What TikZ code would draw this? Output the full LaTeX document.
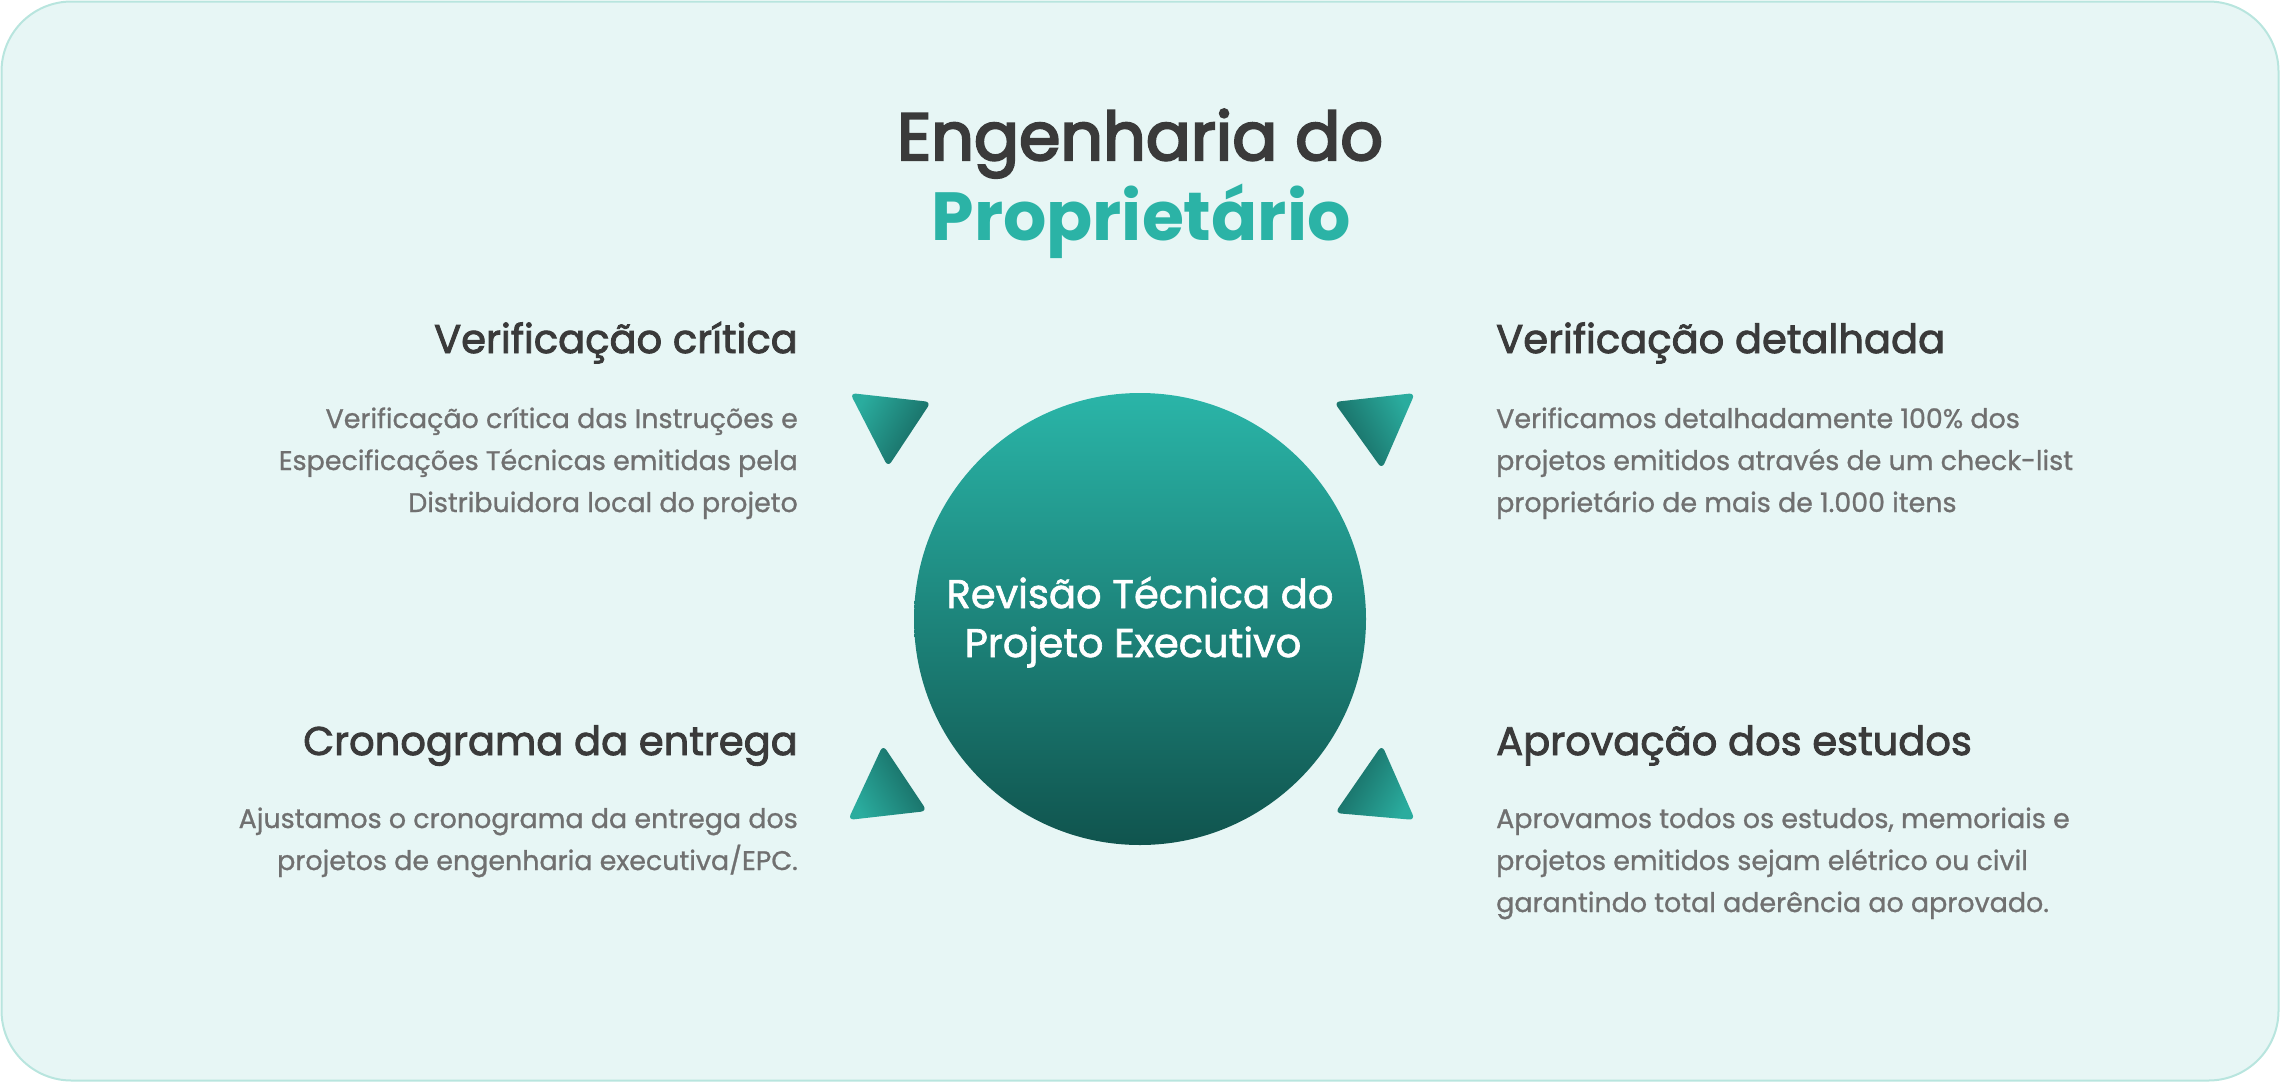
\documentclass[tikz,border=0pt]{standalone}
\usepackage{fontspec}
\setmainfont{Poppins}
\newfontfamily\titlefont{Poppins}[FakeBold=3.4]
\newfontfamily\headfont{Poppins}[FakeBold=2.2]
\newfontfamily\bodyfont{Poppins}[FakeBold=0.9]
\newfontfamily\hubfont{Poppins}[FakeBold=1.6]
\definecolor{bgc}{RGB}{231,246,245}
\definecolor{framec}{RGB}{184,229,222}
\definecolor{headc}{RGB}{58,58,58}
\definecolor{bodyc}{RGB}{112,112,112}
\definecolor{tealc}{RGB}{43,179,166}
\definecolor{circtop}{RGB}{42,181,168}
\definecolor{circbot}{RGB}{16,84,78}
\definecolor{trilight}{RGB}{42,172,158}
\definecolor{tridark}{RGB}{22,100,93}
\newlength\fitlen
\newcommand\fitsize[4]{%
  \settowidth\fitlen{#2\fontsize{100pt}{100pt}\selectfont #4}%
  \pgfmathsetmacro#1{#3/\fitlen*100}}
\AtBeginDocument{%
\fitsize\tsza{\titlefont}{486}{Engenharia do}%
\fitsize\tszb{\rmfamily\bfseries}{419}{Proprietário}%
\fitsize\hsz{\headfont}{449}{Verificação detalhada}%
\fitsize\bsz{\bodyfont}{519}{Especificações Técnicas emitidas pela}%
\fitsize\csz{\hubfont}{387}{Revisão Técnica do}%
}
\tikzset{
  headtxt/.style={text=headc, inner sep=0pt, font=\headfont\fontsize{\hsz pt}{\hsz pt}\selectfont},
  bodytxt/.style={text=bodyc, inner sep=0pt, font=\bodyfont\fontsize{\bsz pt}{\bsz pt}\selectfont},
  hubtxt/.style={text=white, inner sep=0pt, font=\hubfont\fontsize{\csz pt}{\csz pt}\selectfont},
  tri/.style={rounded corners=6pt},
}
\begin{document}
\begin{tikzpicture}[x=1pt,y=-1pt]
\useasboundingbox (0,0) rectangle (2280,1082);
% frame
\draw[fill=bgc, draw=framec, line width=2pt, rounded corners=70pt] (1.5,1.5) rectangle (2278.5,1080.5);
% title
\node[text=headc, inner sep=0pt, anchor=base, font=\titlefont\fontsize{\tsza pt}{\tsza pt}\selectfont] (title1) at (1140,160) {Engenharia do};
\node[text=tealc, inner sep=0pt, anchor=base, font=\bfseries\fontsize{\tszb pt}{\tszb pt}\selectfont] (title2) at (1141,240) {Proprietário};
% hub
\node[circle, minimum size=452pt, inner sep=0pt, top color=circtop, bottom color=circbot] (hub) at (1140,619) {};
\node[hubtxt, anchor=base] (hubl1) at (1140,608) {Revisão Técnica do};
\node[hubtxt, anchor=base] (hubl2) at (1133,657) {Projeto Executivo};
% triangles
\shade[tri, top color=trilight, bottom color=tridark, shading angle=60] (850,393) -- (931,402) -- (888,467) -- cycle;
\shade[tri, top color=trilight, bottom color=tridark, shading angle=-60] (1334,402) -- (1415,393) -- (1382,469) -- cycle;
\shade[tri, top color=trilight, bottom color=tridark, shading angle=120] (883,745) -- (927,811) -- (848,820) -- cycle;
\shade[tri, top color=trilight, bottom color=tridark, shading angle=-120] (1382,745) -- (1415,820) -- (1335,813) -- cycle;
% left top
\node[headtxt, anchor=base east] (h1) at (798,353) {Verificação crítica};
\node[bodytxt, anchor=base east] (b1a) at (798,428) {Verificação crítica das Instruções e};
\node[bodytxt, anchor=base east] (b1b) at (798,470) {Especificações Técnicas emitidas pela};
\node[bodytxt, anchor=base east] (b1c) at (798,512) {Distribuidora local do projeto};
% left bottom
\node[headtxt, anchor=base east] (h3) at (798,755) {Cronograma da entrega};
\node[bodytxt, anchor=base east] (b3a) at (798,828) {Ajustamos o cronograma da entrega dos};
\node[bodytxt, anchor=base east] (b3b) at (798,870) {projetos de engenharia executiva/EPC.};
% right top
\node[headtxt, anchor=base west] (h2) at (1496,353) {Verificação detalhada};
\node[bodytxt, anchor=base west] (b2a) at (1496,428) {Verificamos detalhadamente 100\% dos};
\node[bodytxt, anchor=base west] (b2b) at (1496,470) {projetos emitidos através de um check-list};
\node[bodytxt, anchor=base west] (b2c) at (1496,512) {proprietário de mais de 1.000 itens};
% right bottom
\node[headtxt, anchor=base west] (h4) at (1496,755) {Aprovação dos estudos};
\node[bodytxt, anchor=base west] (b4a) at (1496,828) {Aprovamos todos os estudos, memoriais e};
\node[bodytxt, anchor=base west] (b4b) at (1496,870) {projetos emitidos sejam elétrico ou civil};
\node[bodytxt, anchor=base west] (b4c) at (1496,912) {garantindo total aderência ao aprovado.};
\end{tikzpicture}
\end{document}
